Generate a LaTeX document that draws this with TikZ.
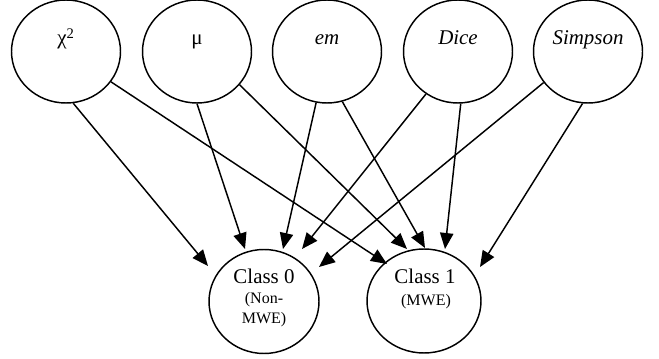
\documentclass[tikz,border=0pt]{standalone}
\usepackage{fontspec}
\setmainfont{Liberation Serif}
\usetikzlibrary{shapes.geometric,arrows.meta}
\begin{document}
\begin{tikzpicture}[x=0.75pt,y=-0.75pt,
  varnode/.style={draw, ellipse, line width=1.1pt, minimum width=81.75pt, minimum height=77.25pt, inner sep=0pt},
  classnode/.style={draw, ellipse, line width=1.1pt, minimum height=78pt, inner sep=0pt},
  lbl/.style={anchor=base, inner sep=0pt, font=\fontsize{15.7}{18}\selectfont},
  sml/.style={anchor=base, inner sep=0pt, font=\fontsize{12}{14}\selectfont},
  link/.style={line width=1.1pt, -{Triangle[length=12pt,width=10pt]}}]
\useasboundingbox (0,0) rectangle (659,359);
% top nodes
\node[varnode] (chi) at (66,51.5) {};
\node[varnode] (mu) at (197,51.5) {};
\node[varnode] (em) at (327,51.5) {};
\node[varnode] (dice) at (458,51.5) {};
\node[varnode] (simp) at (588,51.5) {};
\node[lbl] (tchi) at (66,45) {χ\textsuperscript{2}};
\node[lbl] (tmu) at (197,45) {μ};
\node[lbl] (tem) at (327,45) {\itshape em};
\node[lbl] (tdice) at (458,45) {\itshape Dice};
\node[lbl] (tsimp) at (588,45) {\itshape Simpson};
% bottom nodes
\node[classnode, minimum width=82.5pt] (c0) at (264,301.5) {};
\node[classnode, minimum width=85.5pt] (c1) at (424,301) {};
\node[lbl] (tc0) at (264,283) {Class 0};
\node[sml] (tc0b) at (264,303) {(Non-};
\node[sml] (tc0c) at (264,323) {MWE)};
\node[lbl] (tc1) at (425,283) {Class 1};
\node[sml] (tc1b) at (426,305) {(MWE)};
% connectors
\draw[link] (chi.-82.1) -- ([shift={(-56,-35.5)}]c0.center);
\draw[link] (chi.-34.7) -- ([shift={(-37,-37)}]c1.center);
\draw[link] (mu.-90) -- ([shift={(-19,-52.5)}]c0.center);
\draw[link] (mu.-38.4) -- ([shift={(-17,-52)}]c1.center);
\draw[link] (em.-102.3) -- ([shift={(19,-52.5)}]c0.center);
\draw[link] (em.-73.1) -- ([shift={(1,-53)}]c1.center);
\draw[link] (dice.-127.6) -- ([shift={(38,-52.5)}]c0.center);
\draw[link] (dice.-87.8) -- ([shift={(21,-52)}]c1.center);
\draw[link] (simp.-145) -- ([shift={(55,-34.5)}]c0.center);
\draw[link] (simp.-96.6) -- ([shift={(56,-34)}]c1.center);
\end{tikzpicture}
\end{document}
